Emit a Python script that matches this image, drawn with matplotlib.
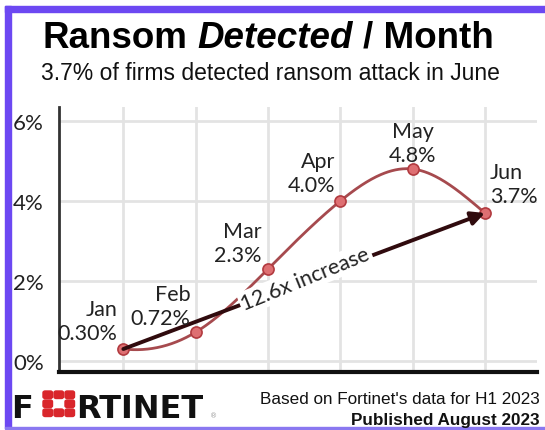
import numpy as np
import matplotlib
matplotlib.use("Agg")
import matplotlib.pyplot as plt
from matplotlib.patches import Rectangle, FancyBboxPatch

months = ["Jan", "Feb", "Mar", "Apr", "May", "Jun"]
rates = [0.30, 0.72, 2.3, 4.0, 4.8, 3.7]
rate_labels = ["0.30%", "0.72%", "2.3%", "4.0%", "4.8%", "3.7%"]
yticks = [0, 2, 4, 6]
ytick_labels = ["0%", "2%", "4%", "6%"]

W, H = 545, 431
PURPLE = "#6c48f2"
LINE = "#a64a4e"
ARROW = "#300b0e"
TXT = "#222222"


def px(x, y):
    # figure pixel (from top-left) -> figure fraction
    return x / W, 1 - y / H


def smooth(x, y, slope0=-0.2, n=300):
    # cubic spline, clamped start, natural end
    x = np.asarray(x, float)
    y = np.asarray(y, float)
    k = len(x)
    h = np.diff(x)
    d = np.diff(y) / h
    A = np.zeros((k, k))
    b = np.zeros(k)
    A[0, 0], A[0, 1] = 2 * h[0], h[0]
    b[0] = 6 * (d[0] - slope0)
    for i in range(1, k - 1):
        A[i, i - 1], A[i, i], A[i, i + 1] = h[i - 1], 2 * (h[i - 1] + h[i]), h[i]
        b[i] = 6 * (d[i] - d[i - 1])
    A[-1, -1] = 1
    M = np.linalg.solve(A, b)
    t = np.linspace(x[0], x[-1], n)
    idx = np.clip(np.searchsorted(x, t) - 1, 0, k - 2)
    x0, x1 = x[idx], x[idx + 1]
    hh = x1 - x0
    s = (M[idx] * (x1 - t) ** 3 + M[idx + 1] * (t - x0) ** 3) / (6 * hh) \
        + (y[idx] / hh - M[idx] * hh / 6) * (x1 - t) \
        + (y[idx + 1] / hh - M[idx + 1] * hh / 6) * (t - x0)
    return t, s


fig = plt.figure(figsize=(W / 100, H / 100), dpi=100)
fig.patch.set_facecolor("white")

# purple frame
fig.patches.append(Rectangle(px(5, 429), 6 / W, (429 - 7) / H, transform=fig.transFigure,
                             color=PURPLE, zorder=0))
fig.patches.append(Rectangle(px(5, 13), (W - 5) / W, 6 / H, transform=fig.transFigure,
                             color=PURPLE, zorder=0))
fig.patches.append(Rectangle(px(5, 430), (W - 5) / W, 2 / H, transform=fig.transFigure,
                             color="#8a78f0", zorder=0))

ax = fig.add_axes([59 / W, 58 / H, (537 - 59) / W, (373 - 108) / H])
x = np.arange(len(months))
ax.set_xlim(-0.89, 5.72)
ax.set_ylim(-0.275, 6.35)

ax.set_xticks(x)
ax.set_xticklabels([])
ax.set_yticks(yticks)
ax.set_yticklabels(ytick_labels, fontfamily="Lato", fontsize=16, color=TXT)
ax.tick_params(length=0, pad=11)
ax.grid(True, color="#e3e3e3", lw=2)
ax.set_axisbelow(True)
for s in ["top", "right"]:
    ax.spines[s].set_visible(False)
ax.spines["left"].set_color("#333333")
ax.spines["left"].set_linewidth(2)
ax.spines["bottom"].set_color("#111111")
ax.spines["bottom"].set_linewidth(3)

t, s = smooth(x, rates)
ax.plot(t, s, color=LINE, lw=2, zorder=3)
ax.plot(x, rates, "o", ms=8, mfc="#de6f72", mec="#b23b40", mew=1.2, zorder=4)

ax.annotate("", xy=(x[-1], rates[-1]), xytext=(x[0], rates[0]),
            arrowprops=dict(arrowstyle="-|>", color=ARROW, lw=2.8,
                            mutation_scale=20, shrinkA=0, shrinkB=0),
            zorder=5)

offsets = [(-6, 6, "right"), (-5, 4, "right"), (-6, 4, "right"),
           (-5, 6, "right"), (0, 4, "center"), (5, 7, "left")]
for xi, yi, m, lab, (dx, dy, ha) in zip(x, rates, months, rate_labels, offsets):
    ax.annotate(f"{m}\n{lab}", (xi, yi), xytext=(dx, dy),
                textcoords="offset pixels", ha=ha, va="bottom",
                fontfamily="Lato", fontsize=15.5, color=TXT, linespacing=1.25,
                multialignment=ha, zorder=6)

p0 = ax.transData.transform((x[0], rates[0]))
p1 = ax.transData.transform((x[-1], rates[-1]))
ang = np.degrees(np.arctan2(p1[1] - p0[1], p1[0] - p0[0]))
ax.text(2.52, 2.06, "12.6x increase", rotation=ang + 1.5, rotation_mode="anchor",
        ha="center", va="center", fontfamily="Lato", fontsize=15.5, color=TXT,
        bbox=dict(fc="white", ec="none", pad=1.5), zorder=7)

# title in three pieces
r = fig.canvas.get_renderer()
tprops = dict(fontfamily="Liberation Sans", fontsize=26.5, fontweight="bold", color="black")
parts = [("Ransom", "normal"), ("Detected", "italic"), ("/ Month", "normal")]
sp = fig.text(0, 0, "R R", **tprops)
sp2 = fig.text(0, 0, "RR", **tprops)
space = sp.get_window_extent(r).width - sp2.get_window_extent(r).width
sp.remove()
sp2.remove()
widths = []
for txt, st in parts:
    tt = fig.text(0, 0, txt, fontstyle=st, **tprops)
    widths.append(tt.get_window_extent(r).width)
    tt.remove()
total = sum(widths) + space * (len(parts) - 1)
left = 268 - total / 2
for (txt, st), w in zip(parts, widths):
    fig.text(*px(left, 48), txt, fontstyle=st, ha="left", va="baseline", **tprops)
    left += w + space

fig.text(*px(270, 80), "3.7% of firms detected ransom attack in June", ha="center",
         va="baseline", fontfamily="Liberation Sans", fontsize=16.5, color="#111111")

# footer
fig.text(*px(540, 404), "Based on Fortinet's data for H1 2023", ha="right", va="baseline",
         fontfamily="Liberation Sans", fontsize=12.3, color="#111111")
fig.text(*px(540, 425), "Published August 2023", ha="right", va="baseline",
         fontfamily="Liberation Sans", fontsize=12.3, fontweight="bold", color="#111111")

# logo
lprops = dict(fontfamily="DejaVu Sans", fontsize=23, fontweight="bold", color="#111111",
              va="baseline", ha="left")
fig.text(*px(11, 418), "F", **lprops)
fig.text(*px(76, 418), "RTINET", **lprops)
fig.text(*px(210, 418), "\u00ae", fontsize=5, color="#999999", va="baseline", ha="left")
cols = [43, 54, 65]
rows = [392, 401, 410]
for ri, yy in enumerate(rows):
    for ci, xx in enumerate(cols):
        if ri == 1 and ci == 1:
            continue
        fig.patches.append(FancyBboxPatch(px(xx, yy + 7.5), 9.5 / W, 7.5 / H,
                                          boxstyle="round,pad=0,rounding_size=0.004",
                                          transform=fig.transFigure, color="#d9262b"))

fig.savefig("out.png", dpi=100)
